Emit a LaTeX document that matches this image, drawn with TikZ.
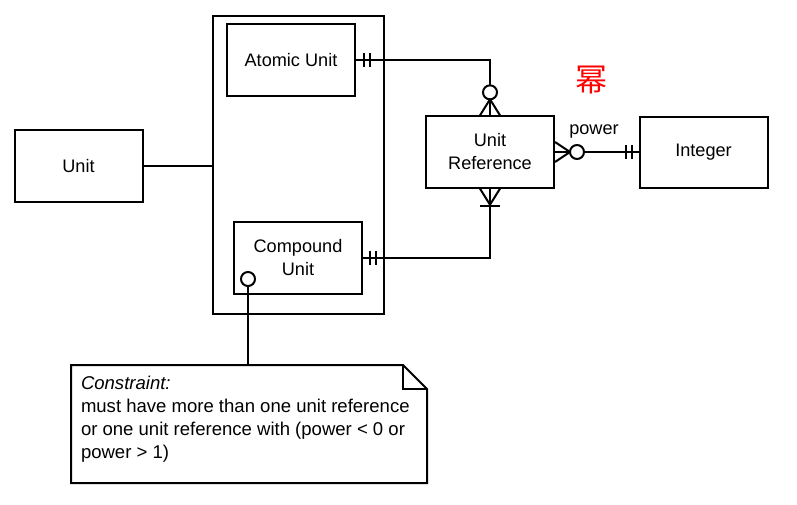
\documentclass[tikz,border=0pt]{standalone}
\usepackage{fontspec}
\setmainfont{Liberation Sans}
\newfontfamily\cjk{Noto Sans CJK SC}
\usetikzlibrary{calc}

\tikzset{
  entity/.style={draw,minimum width=96pt,minimum height=53.5pt,align=center,inner sep=2pt},
  tag/.style={draw,circle,fill=white,minimum size=10.5pt,inner sep=0pt}
}

\begin{document}
\begin{tikzpicture}[x=0.75pt,y=-0.75pt,line width=1.5pt,
  font=\fontsize{13.6pt}{17.25pt}\selectfont]
\useasboundingbox (0,0) rectangle (797,504);

% entities
\node [draw,minimum width=128.25pt,minimum height=223.5pt] (outer) at (298.5,165) {};
\node [entity] (unit) at (78.5,166) {Unit};
\node [entity] (atomic) at (291,60) {Atomic Unit};
\node [entity] (compound) at (298,258) {Compound\\Unit};
\node [entity] (ref) at (490,152) {Unit\\Reference};
\node [entity] (integer) at (703.5,152.5) {Integer};

% note
\coordinate (notetop) at (248,365);
\draw (71,365) -- (403,365) -- (427,389) -- (427,483) -- (71,483) -- cycle;
\draw (403,365) -- (403,389) -- (427,389);
\node [anchor=north west,inner sep=0pt,align=left,font=\fontsize{13.9pt}{17.25pt}\selectfont]
  (note) at (80,375)
  {\textit{Constraint:}\\must have more than one unit reference\\or one unit reference with (power < 0 or\\power > 1)};

% connectors
\draw (unit.east) -- (unit.east -| outer.west);
\draw (atomic.east) -| (ref.north);
\draw (compound.east) -| (ref.south);
\draw (ref.east) -- (ref.east -| integer.west);
\node [tag] (ctag) at (248,279) {};
\draw (ctag) -- (notetop);

% atomic -> ref (one / zero or many)
\draw ($(atomic.east)+(8,-7)$) -- ($(atomic.east)+(8,7)$);
\draw ($(atomic.east)+(14,-7)$) -- ($(atomic.east)+(14,7)$);
\draw ($(ref.north)+(0,-16)$) -- ($(ref.north)+(-10,0)$);
\draw ($(ref.north)+(0,-16)$) -- ($(ref.north)+(10,0)$);
\node [tag] (toptag) at ($(ref.north)+(0,-23)$) {};

% compound -> ref (one / one or many)
\draw ($(compound.east)+(7,-7)$) -- ($(compound.east)+(7,7)$);
\draw ($(compound.east)+(13,-7)$) -- ($(compound.east)+(13,7)$);
\draw ($(ref.south)+(-10,0)$) -- ($(ref.south)+(0,16)$) -- ($(ref.south)+(10,0)$);
\draw ($(ref.south)+(-10,17)$) -- ($(ref.south)+(10,17)$);

% ref -> integer (power)
\draw ($(ref.east)+(0,-10)$) -- ($(ref.east)+(15,0)$) -- ($(ref.east)+(0,10)$);
\node [tag] (righttag) at ($(ref.east)+(22,0)$) {};
\draw ($(ref.east -| integer.west)+(-13,-7)$) -- ($(ref.east -| integer.west)+(-13,7)$);
\draw ($(ref.east -| integer.west)+(-7,-7)$) -- ($(ref.east -| integer.west)+(-7,7)$);
\node (power) at (594,131) {power};
\node [text=red,font=\cjk\fontsize{24pt}{24pt}\selectfont] (mi) at (591,80) {幂};
\end{tikzpicture}
\end{document}
